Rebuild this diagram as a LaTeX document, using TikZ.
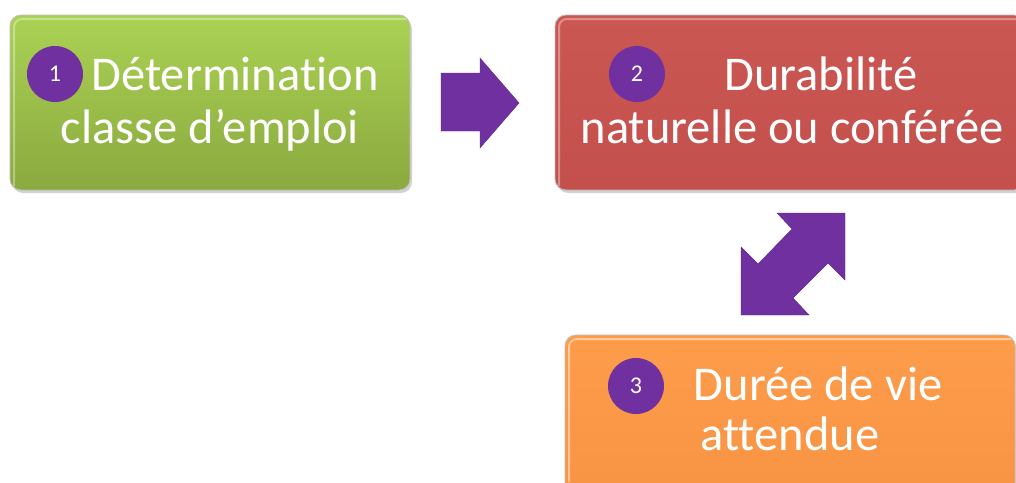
\documentclass[tikz,border=0pt]{standalone}
\usepackage{fontspec}
\setmainfont{Carlito}[Ligatures={NoCommon}]
\usetikzlibrary{shadows}
\definecolor{grtop}{HTML}{ABD254}
\definecolor{grbot}{HTML}{8AA93F}
\definecolor{rdtop}{HTML}{CB5753}
\definecolor{rdbot}{HTML}{C3504C}
\definecolor{ortop}{HTML}{FD9C4B}
\definecolor{orbot}{HTML}{F79444}
\definecolor{pu}{HTML}{7030A0}
\begin{document}
\begin{tikzpicture}[x=1pt,y=-1pt,
  box/.style={rounded corners=11pt, draw=black!25, line width=0.8pt,
    drop shadow={shadow xshift=2pt, shadow yshift=-3pt, opacity=0.35},
    inner sep=0pt},
  txt/.style={text=white, font=\fontsize{48.5}{58}\selectfont, inner sep=0pt, anchor=base},
  num/.style={circle, fill=pu, text=white, minimum size=56pt, inner sep=0pt,
    font=\fontsize{24}{28}\selectfont},
  blk/.style={fill=pu, draw=pu!85!black, line width=0.4pt}]
\useasboundingbox (0,0) rectangle (1016,482);
\clip (0,0) rectangle (1016,482);
\fill[white] (0,0) rectangle (1016,482);

% boxes
\node[box, top color=grtop, bottom color=grbot, minimum width=400pt, minimum height=175pt] (b1) at (210,102.5) {};
\node[box, top color=rdtop, bottom color=rdbot, minimum width=470pt, minimum height=175pt] (b2) at (790,102.5) {};
\node[box, top color=ortop, bottom color=orbot, minimum width=450pt, minimum height=170pt] (b3) at (790,420) {};

% bevel highlights
\draw[white, opacity=0.35, line width=2pt, rounded corners=8pt] (14,186) -- (14,19) -- (406,19);
\draw[white, opacity=0.35, line width=2pt, rounded corners=8pt] (559,186) -- (559,19) -- (1016,19);
\draw[white, opacity=0.45, line width=2pt, rounded corners=8pt] (569,482) -- (569,339) -- (1011,339);

% numbers
\node[num] (n1) at (55,74) {1};
\node[num] (n2) at (637,74) {2};
\node[num] (n3) at (636,386) {3};

% texts
\node[txt] (t1a) at (235,90) {Détermination};
\node[txt] (t1b) at (210,143) {classe d’emploi};
\node[txt] (t2a) at (821,90) {Durabilité};
\node[txt] (t2b) at (792,143) {naturelle ou conférée};
\node[txt] (t3a) at (818,400) {Durée de vie};
\node[txt] (t3b) at (790,450) {attendue};

% arrow 1 -> 2
\draw[blk] (441,73) -- (480,73) -- (480,58) -- (519,103) -- (480,148) -- (480,131) -- (441,131) -- cycle;

% double arrow 2 <-> 3
\draw[blk] (741,315) -- (741,247) -- (758,264) -- (792,229) -- (777,213) -- (845,213)
  -- (845,280) -- (828,263) -- (793,298) -- (809,315) -- cycle;
\end{tikzpicture}
\end{document}
